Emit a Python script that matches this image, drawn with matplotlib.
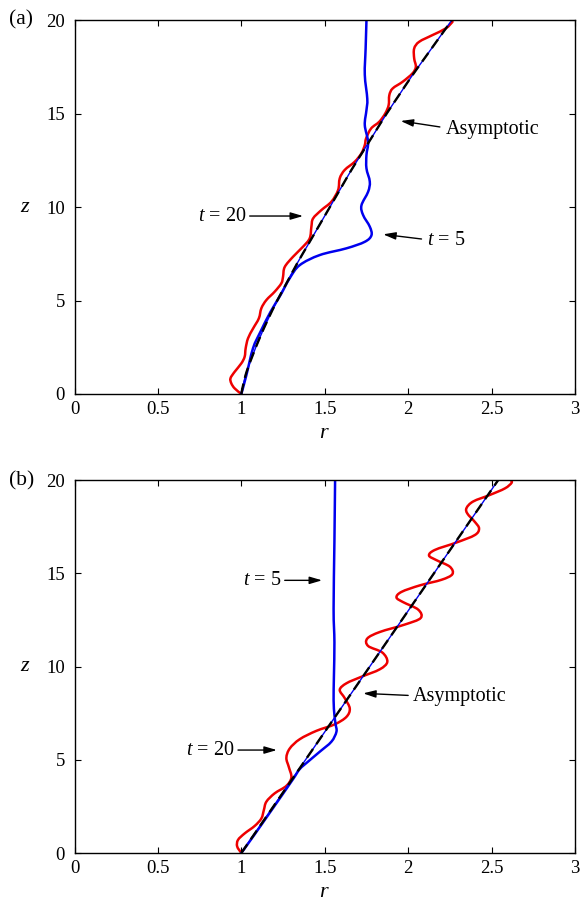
import matplotlib
matplotlib.use("Agg")
import matplotlib.pyplot as plt
from matplotlib.path import Path
from matplotlib.patches import PathPatch

plt.rcParams['font.family'] = ['Liberation Serif', 'DejaVu Serif']
plt.rcParams['mathtext.fontset'] = 'custom'
plt.rcParams['mathtext.rm'] = 'Liberation Serif'
plt.rcParams['mathtext.it'] = 'Liberation Serif:italic'

# ---------------- panel (a) data ----------------
a_asym_r = [1.0, 1.025, 1.065, 1.11, 1.16, 1.215, 1.275, 1.335, 1.40, 1.465, 1.53,
            1.595, 1.66, 1.73, 1.80, 1.87, 1.945, 2.02, 2.10, 2.18, 2.26]
a_asym_z = [0, 1, 2, 3, 4, 5, 6, 7, 8, 9, 10, 11, 12, 13, 14, 15, 16, 17, 18, 19, 20]

a_t5_r = [1.0, 1.03, 1.07, 1.115, 1.175, 1.235, 1.29, 1.35, 1.47, 1.63, 1.74, 1.78,
          1.77, 1.73, 1.72, 1.76, 1.77, 1.75, 1.75, 1.76, 1.74, 1.75, 1.755, 1.74, 1.745, 1.75]
a_t5_z = [0, 1.0, 2.45, 3.34, 4.4, 5.3, 6.2, 6.9, 7.44, 7.8, 8.15, 8.5,
          8.96, 9.58, 10.1, 10.83, 11.37, 12.08, 12.8, 13.5, 14.4, 15.2, 15.8, 17.1, 18.5, 20]

a_t20_r = [1.0, 0.96, 0.94, 0.935, 0.96, 1.0, 1.02, 1.026, 1.04, 1.07, 1.105, 1.12,
           1.15, 1.20, 1.24, 1.25, 1.26, 1.31, 1.37, 1.41, 1.42, 1.43, 1.48, 1.54,
           1.58, 1.59, 1.62, 1.68, 1.72, 1.74, 1.748, 1.778, 1.827, 1.863, 1.883,
           1.887, 1.907, 1.967, 2.026, 2.046, 2.036, 2.036, 2.066, 2.146, 2.226, 2.266]
a_t20_z = [0, 0.3, 0.57, 0.84, 1.19, 1.64, 2.0, 2.45, 2.98, 3.5, 4.05, 4.59,
           5.03, 5.48, 5.93, 6.28, 6.8, 7.35, 7.89, 8.34, 8.96, 9.4, 9.85, 10.3,
           10.92, 11.55, 12.0, 12.44, 12.89, 13.33, 13.69, 14.22, 14.58, 15.03, 15.47,
           16.0, 16.36, 16.72, 17.17, 17.52, 17.97, 18.5, 18.86, 19.22, 19.58, 19.93]

# ---------------- panel (b) data ----------------
b_asym_r = [1.0, 2.54]
b_asym_z = [0, 20]

b_t5_r = [1.0, 1.08, 1.158, 1.236, 1.313, 1.35, 1.40, 1.47, 1.54, 1.57, 1.565,
          1.558, 1.553, 1.555, 1.558, 1.553, 1.558, 1.562]
b_t5_z = [0, 1.0, 2.0, 3.0, 4.0, 4.5, 4.9, 5.43, 5.97, 6.5, 6.9,
          7.4, 8.2, 9.5, 11.3, 13.1, 16.7, 20]

b_t20_r = [1.0, 0.975, 0.98, 1.02, 1.08, 1.12, 1.135, 1.15, 1.2, 1.27, 1.30, 1.285,
           1.27, 1.29, 1.35, 1.45, 1.56, 1.63, 1.65, 1.62, 1.59, 1.63, 1.72, 1.83,
           1.875, 1.845, 1.76, 1.755, 1.83, 1.98, 2.075, 2.06, 1.97, 1.93, 1.96, 2.07,
           2.20, 2.265, 2.25, 2.17, 2.125, 2.16, 2.29, 2.40, 2.425, 2.40, 2.355, 2.35,
           2.39, 2.49, 2.58, 2.62, 2.615]
b_t20_z = [0, 0.35, 0.7, 1.05, 1.45, 1.85, 2.3, 2.75, 3.2, 3.6, 4.05, 4.6,
           5.1, 5.6, 6.1, 6.55, 6.9, 7.3, 7.75, 8.3, 8.75, 9.1, 9.45, 9.85,
           10.25, 10.75, 11.1, 11.5, 11.85, 12.25, 12.6, 13.05, 13.45, 13.7, 14.0, 14.35,
           14.65, 14.95, 15.35, 15.7, 15.95, 16.25, 16.65, 17.05, 17.4, 17.75, 18.2, 18.5,
           18.85, 19.2, 19.55, 19.85, 20.0]

x_ticks = [0, 0.5, 1, 1.5, 2, 2.5, 3]
x_ticklabels = ['0', '0.5', '1', '1.5', '2', '2.5', '3']
y_ticks = [0, 5, 10, 15, 20]
y_ticklabels = ['0', '5', '10', '15', '20']

W, H = 580, 905
fig = plt.figure(figsize=(W / 100, H / 100), dpi=100)


def make_ax(top_px, bottom_px):
    left, right = 74.5, 575.0
    return fig.add_axes([left / W, (H - bottom_px) / H,
                         (right - left) / W, (bottom_px - top_px) / H])


ax_a = make_ax(20.5, 394.0)
ax_b = make_ax(480.0, 853.0)


def style(ax):
    ax.set_xlim(0, 3)
    ax.set_ylim(0, 20)
    ax.set_xticks(x_ticks)
    ax.set_xticklabels(x_ticklabels)
    ax.set_yticks(y_ticks)
    ax.set_yticklabels(y_ticklabels)
    ax.tick_params(direction='in', top=True, right=True, length=4, width=0.8,
                   labelsize=13.5)
    ax.tick_params(axis='x', pad=5)
    ax.tick_params(axis='y', pad=7)
    for s in ax.spines.values():
        s.set_linewidth(1.0)
    ax.set_xlabel('$r$', fontsize=16, labelpad=4)
    ax.set_ylabel('$z$', fontsize=16, rotation=0, labelpad=15, va='center')


def smooth_curve(ax, xs, ys, **kw):
    """Draw a smooth Catmull-Rom (cubic Bezier) path through the read points."""
    pts = list(zip(xs, ys))
    n = len(pts)
    verts = [pts[0]]
    codes = [Path.MOVETO]
    for i in range(n - 1):
        p0 = pts[i - 1] if i > 0 else pts[i]
        p1 = pts[i]
        p2 = pts[i + 1]
        p3 = pts[i + 2] if i + 2 < n else pts[i + 1]
        c1 = (p1[0] + (p2[0] - p0[0]) / 6.0, p1[1] + (p2[1] - p0[1]) / 6.0)
        c2 = (p2[0] - (p3[0] - p1[0]) / 6.0, p2[1] - (p3[1] - p1[1]) / 6.0)
        verts += [c1, c2, p2]
        codes += [Path.CURVE4, Path.CURVE4, Path.CURVE4]
    patch = PathPatch(Path(verts, codes), fill=False, **kw)
    ax.add_patch(patch)
    return patch


def draw(ax, t20r, t20z, t5r, t5z, asr, asz):
    smooth_curve(ax, t20r, t20z, edgecolor='#ee0000', lw=1.8, joinstyle='round',
                 capstyle='round')
    smooth_curve(ax, t5r, t5z, edgecolor='#0000ee', lw=1.8, joinstyle='round',
                 capstyle='round')
    smooth_curve(ax, asr, asz, edgecolor='#0000ee', lw=1.0)
    p = smooth_curve(ax, asr, asz, edgecolor='black', lw=1.7)
    p.set_linestyle((0, (4.5, 2.5)))


draw(ax_a, a_t20_r, a_t20_z, a_t5_r, a_t5_z, a_asym_r, a_asym_z)
draw(ax_b, b_t20_r, b_t20_z, b_t5_r, b_t5_z, b_asym_r, b_asym_z)
style(ax_a)
style(ax_b)

arrow = dict(arrowstyle='-|>,head_length=0.75,head_width=0.22', color='black',
             lw=1.0, shrinkA=0, shrinkB=0)
fs = 14.5

# panel (a) annotations
ax_a.annotate('', xy=(1.955, 14.62), xytext=(2.19, 14.3), arrowprops=arrow)
ax_a.text(2.225, 14.15, 'Asymptotic', fontsize=fs, ha='left', va='center')
ax_a.annotate('', xy=(1.37, 9.53), xytext=(1.05, 9.53), arrowprops=arrow)
ax_a.text(1.03, 9.5, '$t$ = 20', fontsize=fs, ha='right', va='center')
ax_a.annotate('', xy=(1.85, 8.55), xytext=(2.08, 8.3), arrowprops=arrow)
ax_a.text(2.11, 8.24, '$t$ = 5', fontsize=fs, ha='left', va='center')

# panel (b) annotations
ax_b.annotate('', xy=(1.484, 14.62), xytext=(1.26, 14.62), arrowprops=arrow)
ax_b.text(1.24, 14.6, '$t$ = 5', fontsize=fs, ha='right', va='center')
ax_b.annotate('', xy=(1.73, 8.56), xytext=(2.0, 8.45), arrowprops=arrow)
ax_b.text(2.03, 8.4, 'Asymptotic', fontsize=fs, ha='left', va='center')
ax_b.annotate('', xy=(1.213, 5.52), xytext=(0.98, 5.52), arrowprops=arrow)
ax_b.text(0.96, 5.5, '$t$ = 20', fontsize=fs, ha='right', va='center')

fig.text(9 / W, 1 - 20 / H, '(a)', fontsize=15.5, ha='left', va='center')
fig.text(9 / W, 1 - 481 / H, '(b)', fontsize=15.5, ha='left', va='center')

fig.savefig('out.png', dpi=100)
